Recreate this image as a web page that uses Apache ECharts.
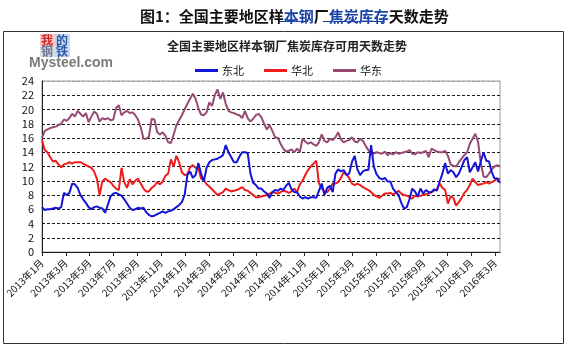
<!DOCTYPE html>
<html><head><meta charset="utf-8">
<script src="https://cdn.jsdelivr.net/npm/echarts@6/dist/echarts.min.js"></script>
<style>html,body{margin:0;padding:0;background:#fff}#c{width:567px;height:347px}</style>
</head><body><div id="c"></div>
<script>
// ---- data ----
const tickLabels = ['2013年1月','2013年3月','2013年5月','2013年7月','2013年9月','2013年11月',
  '2014年1月','2014年3月','2014年5月','2014年7月','2014年9月','2014年11月',
  '2015年1月','2015年3月','2015年5月','2015年7月','2015年9月','2015年11月',
  '2016年1月','2016年3月'];
const seriesNames = ['东北','华北','华东'];
// weekly values from the first week of 2013-01
const dongbei = [
  6.3,5.9,6.0,6.0,6.1,6.2,6.1,6.3,8.3,8.0,
  8.3,9.6,9.5,9.0,8.0,7.4,6.9,6.3,6.0,6.3,
  6.4,6.2,6.1,5.5,6.6,7.8,8.2,8.3,8.1,7.9,
  7.4,6.8,6.2,5.9,6.0,6.2,6.1,6.2,5.6,5.2,
  5.0,5.1,5.3,5.5,5.7,5.5,5.7,5.8,6.0,6.3,
  6.6,7.0,8.0,10.8,11.3,10.4,10.8,12.5,11.0,9.9,
  11.8,12.6,12.9,13.0,13.1,13.3,13.6,15.0,14.0,13.3,
  12.6,12.6,13.4,14.0,14.0,13.9,11.0,9.7,9.4,8.9,
  8.9,8.5,8.2,7.6,8.4,8.7,8.6,8.9,8.7,9.3,
  9.7,8.8,8.4,8.4,7.8,7.5,7.7,7.5,7.7,7.7,
  7.6,8.6,9.6,8.0,9.0,9.3,8.4,11.0,11.6,11.3,
  11.5,10.8,11.0,12.6,13.5,11.6,10.8,11.3,11.5,11.5,
  15.0,12.0,10.9,10.4,10.2,10.4,9.9,9.9,8.9,8.4,
  8.0,6.9,6.1,6.3,7.4,8.9,8.5,7.8,8.9,8.2,
  8.7,8.4,8.4,8.8,8.6,9.9,11.0,12.5,11.0,11.5,
  11.2,10.5,11.0,11.9,12.9,13.3,11.2,11.9,12.6,11.3,
  12.7,14.0,12.8,12.7,11.2,10.3,10.3,9.7];
const huabei = [
  15.7,14.3,14.0,13.3,12.7,12.8,12.3,11.9,12.3,12.4,
  12.6,12.4,12.6,12.6,12.6,12.4,12.2,12.0,11.8,11.3,
  10.3,8.0,9.9,10.3,10.0,9.8,9.3,8.9,8.7,11.8,
  9.8,9.0,10.2,9.5,10.0,10.3,9.6,8.9,8.5,8.5,
  9.0,9.3,9.8,9.5,9.9,10.7,11.0,13.0,12.0,13.5,
  12.6,11.2,10.8,10.9,11.9,12.2,11.8,11.8,10.3,10.1,
  9.5,9.2,8.8,8.4,8.0,8.2,8.4,8.9,8.7,8.5,
  8.6,8.7,8.9,9.1,8.7,8.6,8.3,8.0,7.7,7.7,
  7.8,7.9,8.0,8.2,8.4,8.3,8.2,8.4,8.6,8.5,
  8.3,8.5,8.9,8.4,9.5,10.0,10.8,11.5,12.0,12.4,
  12.8,9.6,8.9,8.5,8.4,8.9,9.6,9.6,9.8,10.4,
  11.2,10.9,10.4,9.6,9.4,9.6,9.4,9.1,8.9,8.7,
  8.4,8.0,7.8,7.6,7.9,8.2,8.2,8.3,8.1,8.3,
  8.6,8.2,8.0,7.9,7.7,7.5,7.9,7.8,7.9,8.0,
  8.1,8.2,8.4,8.6,8.8,9.6,9.0,8.7,6.8,7.8,
  7.6,6.5,7.0,7.6,8.3,8.7,9.4,10.3,9.8,9.4,
  9.5,9.6,9.8,9.6,9.8,10.0,10.3,10.2];
const huadong = [
  16.0,17.0,17.2,17.4,17.5,17.6,17.8,18.0,18.6,18.4,
  18.8,19.4,19.0,19.8,19.4,19.0,19.5,18.2,19.0,19.7,
  19.4,18.3,18.8,18.6,18.8,18.5,18.6,20.2,20.6,19.2,
  19.6,19.8,19.5,19.6,19.2,18.6,17.5,15.9,15.9,16.2,
  18.7,18.6,16.8,16.5,16.8,16.3,15.4,15.3,16.5,17.8,
  18.5,19.2,20.0,20.8,21.5,22.2,21.5,20.2,19.3,19.2,
  19.6,21.0,20.5,22.0,22.8,21.5,22.4,20.8,19.8,19.6,
  19.5,19.3,19.2,18.8,19.8,18.8,18.3,18.7,19.2,19.4,
  18.9,18.0,17.2,17.8,17.0,16.1,16.0,15.2,14.5,14.1,
  14.2,14.4,14.0,14.5,14.0,15.9,15.5,15.2,15.4,15.1,
  14.9,15.4,16.5,15.6,15.4,15.9,15.7,16.1,16.8,15.8,
  15.4,15.6,15.7,16.1,15.5,15.4,15.9,15.6,14.9,14.3,
  13.8,13.8,14.0,13.9,13.8,14.1,13.6,13.9,13.7,14.0,
  13.8,13.9,14.0,14.1,14.3,13.8,13.7,14.0,13.9,14.0,
  14.2,13.3,14.5,14.3,14.1,14.0,14.0,14.2,13.5,12.3,
  12.1,12.0,12.6,13.1,13.6,14.0,15.2,15.9,16.6,15.5,
  12.5,10.6,10.5,11.0,11.6,12.0,12.2,12.0];

// ---- build ----
const MONTHS_PER_WEEK = 12 / 52.18;
const toXY = arr => arr.map((v, i) => [i * MONTHS_PER_WEEK, v]);
const xMax = (huadong.length - 1) * MONTHS_PER_WEEK;
const tickMonths = tickLabels.map((_, k) => k * 2);
const colors = ['#1414d8', '#ee1c1c', '#974a74'];
const FONT = '"Microsoft YaHei","Noto Sans CJK SC",sans-serif';

const chart = echarts.init(document.getElementById('c'), null, {renderer: 'canvas'});
const splitColors = [];
for (let k = 0; k <= 12; k++) splitColors.push(k === 12 ? '#9a9a9a' : '#1a1a1a');

chart.setOption({
  backgroundColor: '#fff',
  animation: false,
  title: {
    left: 135, top: 4,
    text: '{a|图1：全国主要地区样}{b|本钢}{a|厂}{b|焦炭库存}{a|天数走势}',
    textStyle: {
      rich: {
        a: {fontSize: 15, fontWeight: 'bold', color: '#111', fontFamily: FONT},
        b: {fontSize: 15, fontWeight: 'bold', color: '#1a44a8', fontFamily: FONT}
      }
    }
  },
  legend: {
    left: 190, top: 60,
    itemWidth: 23, itemHeight: 3, itemGap: 20, icon: 'rect',
    textStyle: {fontSize: 11, color: '#111', fontFamily: FONT, padding: [0,0,0,-1]},
    data: seriesNames
  },
  grid: {left: 42, right: 67, top: 81, bottom: 95, show: true, borderColor: '#9a9a9a', borderWidth: 1},
  xAxis: {
    type: 'value', min: 0, max: xMax, interval: 2,
    axisLine: {lineStyle: {color: '#222', width: 1}},
    axisTick: {show: true, length: 4, inside: false, lineStyle: {color: '#222'}, customValues: tickMonths},
    axisLabel: {
      rotate: 45, fontSize: 10, color: '#111', fontFamily: FONT, margin: 9,
      hideOverlap: false, customValues: tickMonths,
      formatter: v => {
        const k = Math.round(v / 2);
        return Math.abs(v - k * 2) < 1e-6 && tickLabels[k] ? tickLabels[k] : '';
      }
    },
    splitLine: {show: false}
  },
  yAxis: {
    type: 'value', min: 0, max: 24, interval: 2,
    axisLine: {show: true, lineStyle: {color: '#222', width: 1}},
    axisTick: {show: false},
    axisLabel: {fontSize: 11, color: '#111', fontFamily: FONT, margin: 8},
    splitLine: {show: true, lineStyle: {color: splitColors, type: [3, 2], width: 1}}
  },
  series: [
    {name: seriesNames[0], type: 'line', data: toXY(dongbei), symbol: 'none', lineStyle: {width: 2, color: colors[0]}, itemStyle: {color: colors[0]}, z: 3},
    {name: seriesNames[1], type: 'line', data: toXY(huabei), symbol: 'none', lineStyle: {width: 2, color: colors[1]}, itemStyle: {color: colors[1]}, z: 2},
    {name: seriesNames[2], type: 'line', data: toXY(huadong), symbol: 'none', lineStyle: {width: 2, color: colors[2]}, itemStyle: {color: colors[2]}, z: 1}
  ],
  graphic: [
    {type: 'rect', shape: {x: 3.5, y: 31.5, width: 560, height: 312}, style: {fill: 'none', stroke: '#333', lineWidth: 1}, z: -1, silent: true},
    {type: 'line', shape: {x1: 278, y1: 21.5, x2: 308, y2: 21.5}, style: {stroke: '#1a44a8', lineWidth: 1}},
    {type: 'line', shape: {x1: 323, y1: 21.5, x2: 383, y2: 21.5}, style: {stroke: '#1a44a8', lineWidth: 1}},
    {type: 'text', left: 167, top: 40, style: {text: '全国主要地区样本钢厂焦炭库存可用天数走势', font: 'bold 12px ' + FONT, fill: '#222'}},
    {type: 'rect', shape: {x: 40, y: 34, width: 15, height: 12}, style: {fill: '#f3c9c9'}},
    {type: 'rect', shape: {x: 55, y: 34, width: 15, height: 12}, style: {fill: '#c9d6ee'}},
    {type: 'rect', shape: {x: 40, y: 46, width: 15, height: 11}, style: {fill: '#d9dde6'}},
    {type: 'rect', shape: {x: 55, y: 46, width: 15, height: 11}, style: {fill: '#c9d6ee'}},
    {type: 'text', x: 41, y: 34, style: {text: '我', font: 'bold 12px ' + FONT, fill: '#d02828', verticalAlign: 'top'}},
    {type: 'text', x: 56, y: 34, style: {text: '的', font: 'bold 12px ' + FONT, fill: '#2a5aa8', verticalAlign: 'top'}},
    {type: 'text', x: 41, y: 45, style: {text: '钢', font: 'bold 12px ' + FONT, fill: '#6d7a96', verticalAlign: 'top'}},
    {type: 'text', x: 56, y: 45, style: {text: '铁', font: 'bold 12px ' + FONT, fill: '#2a5aa8', verticalAlign: 'top'}},
    {type: 'text', left: 29, top: 56, style: {text: 'Mysteel.com', font: 'bold 14px "Liberation Sans",Arial,sans-serif', fill: '#7a7a7a'}}
  ]
});
</script>
</body></html>
